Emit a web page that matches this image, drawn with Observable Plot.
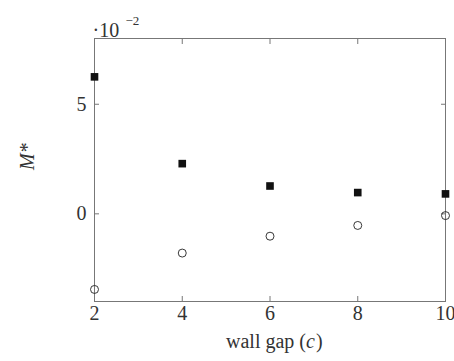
<!DOCTYPE html>
<html><head><meta charset="utf-8">
<script src="https://cdn.jsdelivr.net/npm/d3@7"></script>
<script src="https://cdn.jsdelivr.net/npm/@observablehq/plot@0.6"></script>
<style>body{margin:0;background:#fff} svg text{font-family:"Liberation Serif","DejaVu Serif",serif}</style>
</head><body><div id="chart"></div>
<script>
const wallGap = [2, 4, 6, 8, 10];
const filledM = [6.25, 2.29, 1.27, 0.97, 0.91];
const openM = [-3.45, -1.79, -1.02, -0.53, -0.08];
const xTicks = [2, 4, 6, 8, 10];
const yTicks = [0, 5];

const filled = wallGap.map((c, i) => ({c, m: filledM[i]}));
const open = wallGap.map((c, i) => ({c, m: openM[i]}));
const chart = Plot.plot({
  width: 454, height: 361,
  marginLeft: 94, marginRight: 9, marginTop: 38, marginBottom: 60,
  style: {fontFamily: "'Liberation Serif', 'DejaVu Serif', serif", fontSize: "20px", color: "#333", background: "#fff"},
  x: {domain: [2, 10]},
  y: {domain: [-4, 8]},
  marks: [
    Plot.frame({stroke: "#777"}),
    Plot.axisX(xTicks, {anchor: "bottom", tickSize: -5, text: null, stroke: "#777", label: null}),
    Plot.axisX(xTicks, {anchor: "top", tickSize: -5, text: null, stroke: "#777", label: null}),
    Plot.axisX(xTicks, {anchor: "bottom", tickSize: 0, tickPadding: 4, label: null, fontSize: 20}),
    Plot.axisY(yTicks, {anchor: "left", tickSize: -5, text: null, stroke: "#777", label: null}),
    Plot.axisY(yTicks, {anchor: "right", tickSize: -5, text: null, stroke: "#777", label: null}),
    Plot.axisY(yTicks, {anchor: "left", tickSize: 0, tickPadding: 8, label: null, fontSize: 20}),
    Plot.text(["wall gap ("], {frameAnchor: "bottom", textAnchor: "end", dx: 36, dy: 46, fontSize: 20, fill: "#333"}),
    Plot.text(["c"], {frameAnchor: "bottom", textAnchor: "start", dx: 36, dy: 46, fontSize: 20, fontStyle: "italic", fill: "#333"}),
    Plot.text([")"], {frameAnchor: "bottom", textAnchor: "start", dx: 46, dy: 46, fontSize: 20, fill: "#333"}),
    Plot.text(["M*"], {frameAnchor: "left", dx: -67, rotate: -90, fontSize: 20, fontStyle: "italic", fill: "#333"}),
    Plot.text(["·10"], {frameAnchor: "top-left", textAnchor: "start", dy: -16, dx: -2, fontSize: 20, fill: "#333"}),
    Plot.text(["−2"], {frameAnchor: "top-left", textAnchor: "start", dy: -23, dx: 31, fontSize: 13, fill: "#333"}),
    Plot.dot(open, {x: "c", y: "m", r: 4, stroke: "#222", strokeWidth: 0.9, fill: "none"}),
    Plot.dot(filled, {x: "c", y: "m", symbol: "square", r: 4.3, fill: "#111", stroke: "none"})
  ]
});
document.getElementById("chart").append(chart);
</script></body></html>
